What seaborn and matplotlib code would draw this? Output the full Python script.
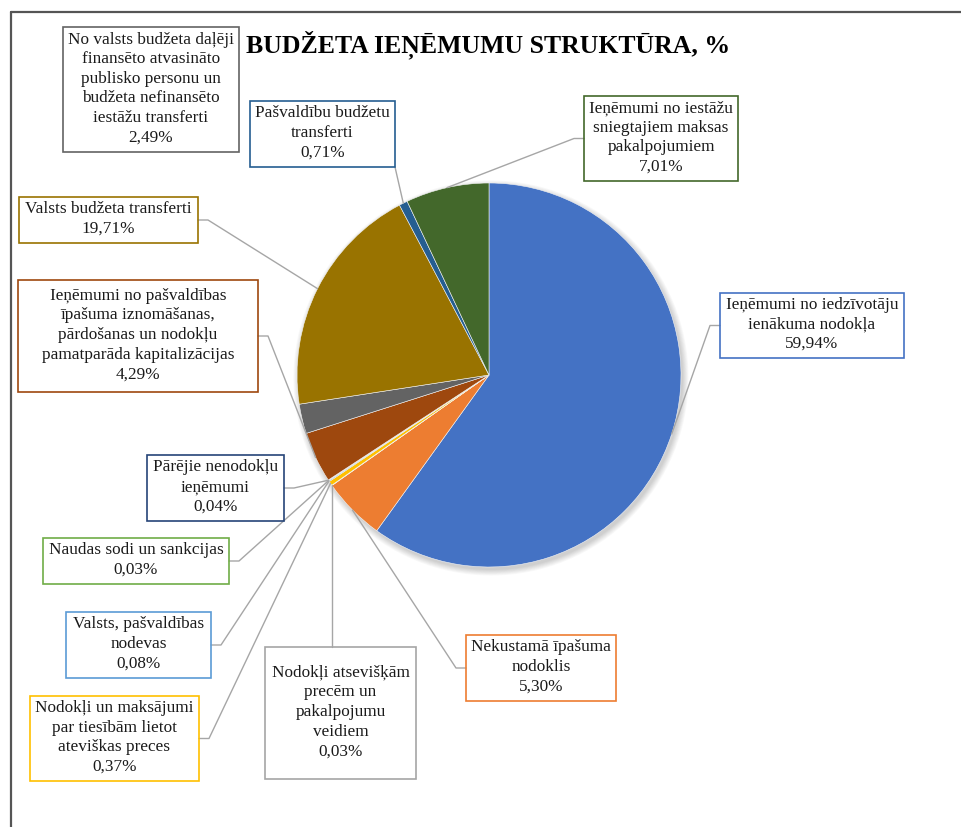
import numpy as np
import seaborn as sns
import matplotlib.pyplot as plt
from matplotlib.patches import Rectangle, Circle

# Budget revenue structure, % (order: clockwise from 12 o'clock)
names = [
    "Ieņēmumi no iedzīvotāju\nienākuma nodokļa",
    "Nekustamā īpašuma\nnodoklis",
    "Nodokļi atsevišķām\nprecēm un\npakalpojumu\nveidiem",
    "Nodokļi un maksājumi\npar tiesībām lietot\nateviškas preces",
    "Valsts, pašvaldības\nnodevas",
    "Naudas sodi un sankcijas",
    "Pārējie nenodokļu\nieņēmumi",
    "Ieņēmumi no pašvaldības\nīpašuma iznomāšanas,\npārdošanas un nodokļu\npamatparāda kapitalizācijas",
    "No valsts budžeta daļēji\nfinansēto atvasināto\npublisko personu un\nbudžeta nefinansēto\niestāžu transferti",
    "Valsts budžeta transferti",
    "Pašvaldību budžetu\ntransferti",
    "Ieņēmumi no iestāžu\nsniegtajiem maksas\npakalpojumiem",
]
values = [59.94, 5.30, 0.03, 0.37, 0.08, 0.03, 0.04, 4.29, 2.49, 19.71, 0.71, 7.01]
colors = ["#4472C4", "#ED7D31", "#A5A5A5", "#FFC000", "#5B9BD5", "#70AD47",
          "#264478", "#9E480E", "#636363", "#997300", "#255E91", "#43682B"]

# label box layout in pixels (x0, y0, x1, y1, y down) and leader attach side
boxes = [
    (720, 293, 904, 358, "left"),
    (466, 635, 616, 701, "left"),
    (265, 647, 416, 779, "top"),
    (30, 696, 199, 781, "right"),
    (66, 612, 211, 678, "right"),
    (43, 538, 229, 584, "right"),
    (147, 455, 284, 521, "right"),
    (18, 280, 258, 392, "right"),
    (63, 27, 239, 152, None),
    (19, 197, 198, 243, "right"),
    (250, 101, 395, 167, "corner"),
    (584, 96, 738, 181, "left"),
]

W, H = 961, 827
def Y(y):
    return H - y

sns.set_theme(style="white")
plt.rcParams['font.family'] = ['Liberation Serif', 'DejaVu Serif']
palette = sns.color_palette(colors)

fig = plt.figure(figsize=(W / 100, H / 100), dpi=100)
ax = fig.add_axes([0, 0, 1, 1])

cx, cy, r = 489, Y(375), 192

# soft shadow
for i in range(8):
    ax.add_patch(Circle((cx + 2, cy - 3), r + 0.8 * i, color="black", alpha=0.025, lw=0, zorder=1))

wedges, _ = ax.pie(values, colors=palette, startangle=90, counterclock=False,
                   center=(cx, cy), radius=r,
                   wedgeprops=dict(linewidth=0.4, edgecolor="#f4f4f4", zorder=2))

for name, v, col, w, (x0, y0, x1, y1, side) in zip(names, values, colors, wedges, boxes):
    ax.add_patch(Rectangle((x0, Y(y1)), x1 - x0, y1 - y0, fill=False,
                           edgecolor=col, lw=1.2, zorder=4))
    label = name + "\n" + f"{v:.2f}".replace(".", ",") + "%"
    ax.text((x0 + x1) / 2, Y((y0 + y1) / 2) + 1, label, ha="center", va="center",
            fontsize=12.4, linespacing=1.3, color="#1a1a1a", zorder=5)
    if side is None:
        continue
    mid = np.deg2rad((w.theta1 + w.theta2) / 2)
    px, py = cx + r * np.cos(mid), cy + r * np.sin(mid)
    ym = Y((y0 + y1) / 2)
    if side == "left":
        xs, ys = [x0, x0 - 10, px], [ym, ym, py]
    elif side == "right":
        xs, ys = [x1, x1 + 10, px], [ym, ym, py]
    elif side == "top":
        xs, ys = [px, px], [Y(y0), py]
    else:
        xs, ys = [x1, px], [Y(y1), py]
    ax.plot(xs, ys, color="#A6A6A6", lw=1, zorder=3)

ax.text(488, Y(45), "BUDŽETA IEŅĒMUMU STRUKTŪRA, %", ha="center", va="center",
        fontsize=18.5, fontweight="bold", color="black")

# document frame
ax.plot([11, 11], [Y(12), 0], color="#555555", lw=1.6)
ax.plot([11, W], [Y(12), Y(12)], color="#555555", lw=1.6)

ax.set_xlim(0, W)
ax.set_ylim(0, H)
ax.set_aspect("equal")
ax.axis("off")

plt.savefig("out.png", dpi=100)
